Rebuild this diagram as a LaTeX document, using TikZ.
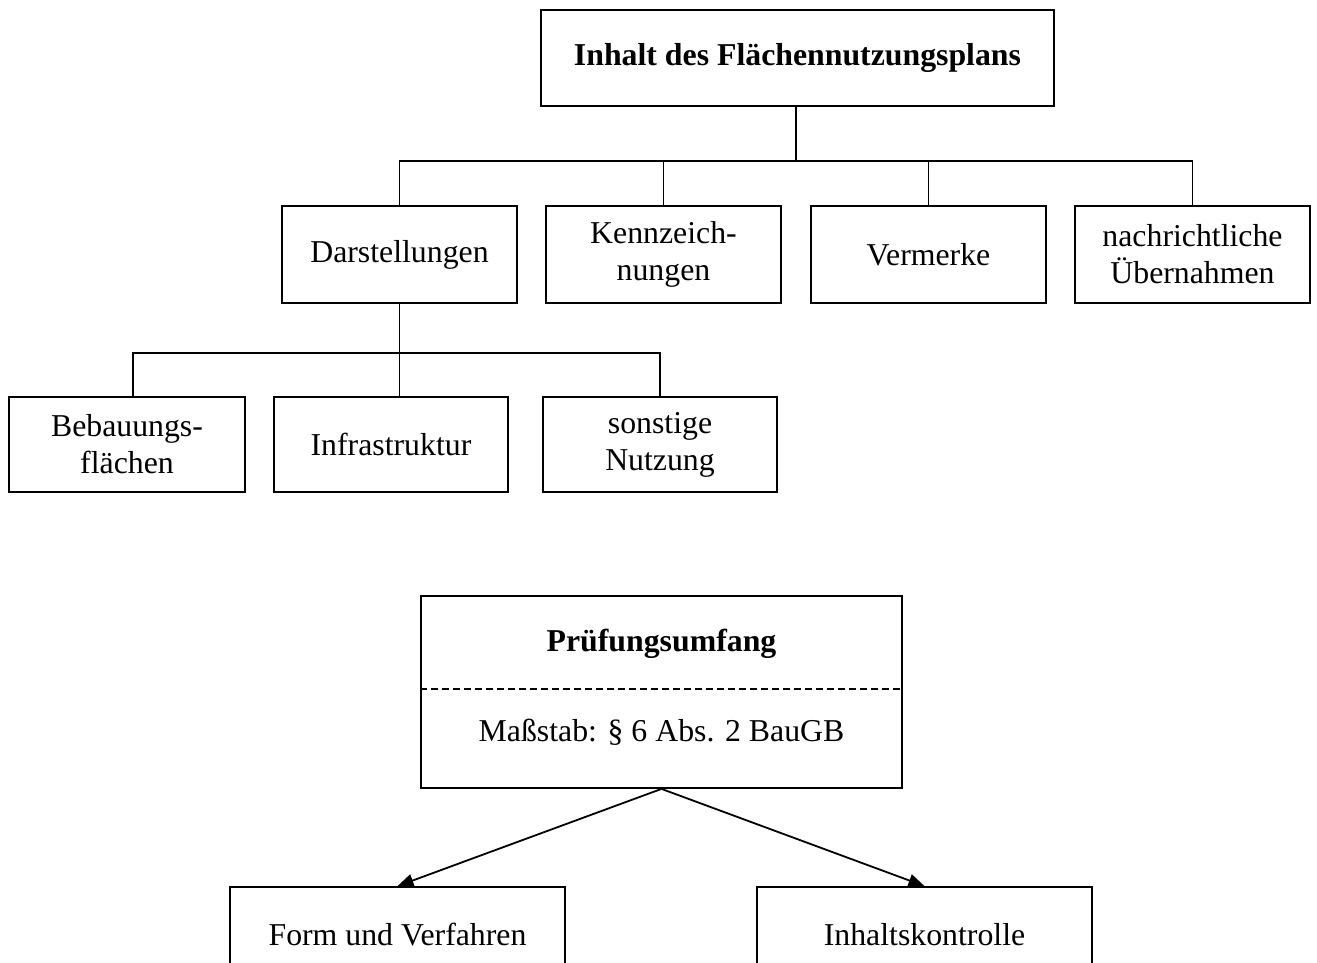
\documentclass[tikz,border=0pt]{standalone}
\usepackage{fontspec}
\setmainfont{Liberation Serif}
\usetikzlibrary{arrows.meta}
\begin{document}
\begin{tikzpicture}[x=1pt,y=-1pt,
  box/.style={draw, line width=1.8pt, minimum height=96pt, inner sep=0pt,
    align=center, font=\fontsize{31.8}{37}\selectfont},
  txt/.style={inner sep=0pt, font=\fontsize{31.8}{37}\selectfont},
  link/.style={line width=1.8pt},
  arrowlink/.style={line width=1.8pt, -{Triangle[length=16pt,width=13pt]}}]
\useasboundingbox (0,0) rectangle (1317,963);
\clip (0,0) rectangle (1317,963);

% first tree: contents of the land use plan
\node[box, minimum width=513pt] (T) at (797.5,58) {\bfseries Inhalt des Flächennutzungsplans};

\node[box, minimum width=235pt, minimum height=97pt] (D) at (399.5,254.5) {Darstellungen};
\node[box, minimum width=235pt, minimum height=97pt] (K) at (663.5,254.5) {Kennzeich-\\nungen};
\node[box, minimum width=235pt, minimum height=97pt] (V) at (928.5,254.5) {Vermerke};
\node[box, minimum width=235pt, minimum height=97pt] (N) at (1192.5,254.5) {nachrichtliche\\Übernahmen};

\node[box, minimum width=236pt, minimum height=95pt] (B) at (127,444.5) {Bebauungs-\\flächen};
\node[box, minimum width=234pt, minimum height=95pt] (I) at (391,444.5) {Infrastruktur};
\node[box, minimum width=234pt, minimum height=95pt] (S) at (660,444.5) {sonstige\\Nutzung};

\path (T.south) ++(-1.5,54) coordinate (j1);
\draw[link] (T.south -| j1) -- (j1);
\draw[link] (D.north) |- (j1);
\draw[link] (N.north) |- (j1);
\draw[link] (K.north) -- (K.north |- j1);
\draw[link] (V.north) -- (V.north |- j1);

\path (D.south) ++(0,49) coordinate (j2);
\draw[link] (D.south) -- (D.south |- I.north);
\draw[link] ([xshift=6pt]B.north) |- (j2);
\draw[link] (S.north) |- (j2);

% second tree: scope of review
\node[box, minimum width=481pt, minimum height=192pt] (P) at (661.5,692) {};
\node[txt] (Pt) at (661.5,644) {\bfseries Prüfungsumfang};
\node[txt] (Pm) at (661.5,732) {Maßstab: § 6 Abs. 2 BauGB};
\draw[line width=1.3pt, dash pattern=on 7pt off 4pt] (P.west |- 0,689) -- (P.east |- 0,689);

\node[box, minimum width=335pt] (F) at (397.5,935) {Form und Verfahren};
\node[box, minimum width=335pt] (C) at (924.5,935) {Inhaltskontrolle};

\draw[arrowlink] (P.south) -- (F.north);
\draw[arrowlink] (P.south) -- (C.north);
\end{tikzpicture}
\end{document}
